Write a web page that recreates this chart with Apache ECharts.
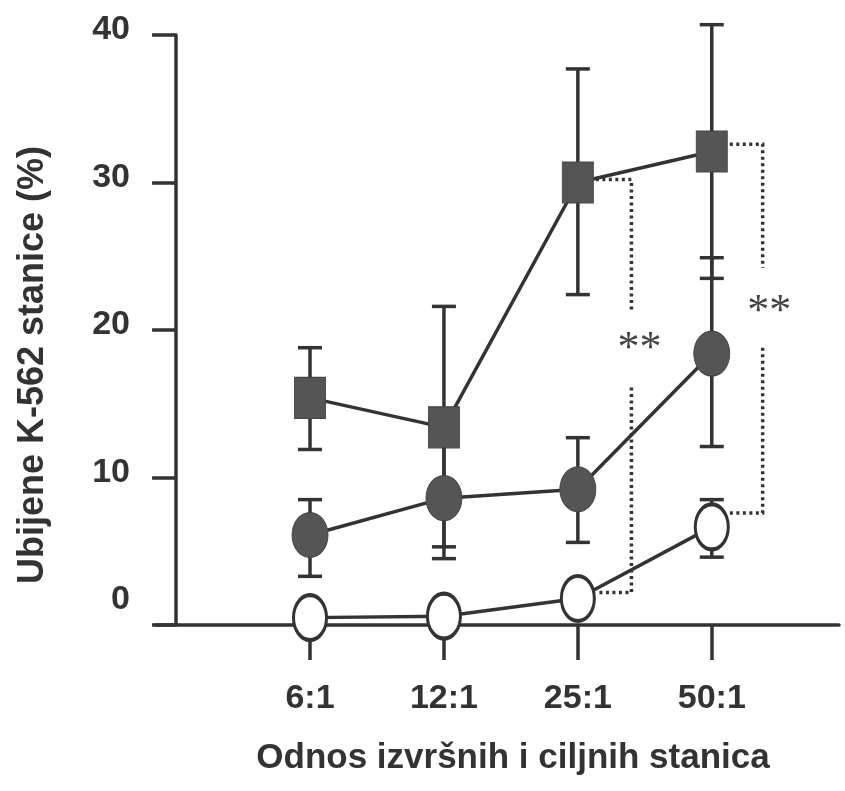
<!DOCTYPE html>
<html>
<head>
<meta charset="utf-8">
<script src="https://cdn.jsdelivr.net/npm/echarts@6/dist/echarts.min.js"></script>
<style>
  html, body { margin: 0; padding: 0; background: #fff; }
  #main { width: 845px; height: 791px; }
</style>
</head>
<body>
<div id="main"></div>
<script>
// omjeri efektor:meta (x pozicije 1..4)
const categories = ["6:1", "12:1", "25:1", "50:1"];
const yTicks = [0, 10, 20, 30, 40];

// kvadrati (gornja krivulja)
const squareMean = [15.4, 13.4, 30.0, 32.1];
const squareLow = [11.9, 5.3, 22.4, 23.5];
const squareHigh = [18.8, 21.6, 37.7, 40.7];

// tamni krugovi (srednja krivulja)
const dotMean = [6.1, 8.6, 9.2, 18.4];
const dotLow = [3.3, 4.5, 5.6, 12.1];
const dotHigh = [8.5, 12.7, 12.7, 24.9];

// prazni krugovi (donja krivulja)
const openMean = [0.5, 0.6, 1.8, 6.65];
const openLow = [null, null, null, 4.6];
const openHigh = [null, null, null, 8.5];

// oznake značajnosti: [kategorija, x zagrade, vrh, prekid gore, prekid dolje, dno]
const brackets = [
  [3, 3.40, 30.2, 21.2, 16.1, 2.2],
  [4, 4.38, 32.6, 24.2, 18.8, 7.6]
];
const starLabels = [
  [3.46, 19.2, "**"],
  [4.43, 21.7, "**"]
];

const ink = "#333";
const font = "'Liberation Sans', Arial, sans-serif";

const chartDom = document.getElementById("main");
const myChart = echarts.init(chartDom);

const errorSeries = (low, high) => ({
  type: "custom",
  z: 1,
  silent: true,
  data: categories
    .map((c, i) => [i + 1, low[i], high[i]])
    .filter(d => d[1] != null),
  renderItem: (params, api) => {
    const x = api.value(0);
    const lo = api.coord([x, api.value(1)]);
    const hi = api.coord([x, api.value(2)]);
    const cap = 12;
    const style = { stroke: ink, lineWidth: 3.5 };
    return {
      type: "group",
      children: [
        { type: "line", shape: { x1: lo[0], y1: lo[1], x2: hi[0], y2: hi[1] }, style },
        { type: "line", shape: { x1: lo[0] - cap, y1: lo[1], x2: lo[0] + cap, y2: lo[1] }, style },
        { type: "line", shape: { x1: hi[0] - cap, y1: hi[1], x2: hi[0] + cap, y2: hi[1] }, style }
      ]
    };
  }
});

const ellipse = "path://M0,-1 A1,1 0 1,1 0,1 A1,1 0 1,1 0,-1 Z";

const option = {
  backgroundColor: "#fff",
  animation: false,
  grid: { left: 156, top: 35, width: 683, height: 590, outerBoundsMode: "none" },
  xAxis: {
    type: "value",
    min: -0.15,
    max: 4.95,
    interval: 1,
    splitLine: { show: false },
    axisLine: { lineStyle: { color: ink, width: 3.5 } },
    axisTick: {
      length: 35,
      customValues: [1, 2, 3, 4],
      lineStyle: { color: ink, width: 3.5 }
    },
    axisLabel: {
      customValues: [1, 2, 3, 4],
      margin: 57,
      formatter: v => categories[Math.round(v) - 1] || "",
      color: ink,
      fontSize: 34,
      fontWeight: "bold",
      fontFamily: font
    },
    name: "Odnos izvršnih i ciljnih stanica",
    nameLocation: "middle",
    nameGap: 116,
    nameTextStyle: {
      color: ink,
      fontSize: 35,
      fontWeight: "bold",
      fontFamily: font,
      padding: [0, 0, 0, 31]
    }
  },
  yAxis: {
    type: "value",
    min: 0,
    max: 40,
    interval: 10,
    splitLine: { show: false },
    axisLine: { onZero: true, lineStyle: { color: ink, width: 3.5 } },
    axisTick: { length: 24, lineStyle: { color: ink, width: 3.5 } },
    axisLabel: {
      margin: 26,
      formatter: v => (v === 0 ? "{z|0}" : "{n|" + v + "}"),
      rich: {
        n: { color: ink, fontSize: 34, fontWeight: "bold", fontFamily: font, padding: [0, 0, 10, 0] },
        z: { color: ink, fontSize: 34, fontWeight: "bold", fontFamily: font, padding: [0, 0, 50, 0] }
      }
    },
    name: "Ubijene K-562 stanice (%)",
    nameLocation: "middle",
    nameGap: 105,
    nameTextStyle: {
      color: ink,
      fontSize: 36,
      fontWeight: "bold",
      fontFamily: font,
      padding: [0, 70, 0, 0]
    }
  },
  series: [
    errorSeries(squareLow, squareHigh),
    errorSeries(dotLow, dotHigh),
    errorSeries(openLow, openHigh),
    {
      name: "kvadrati",
      type: "line",
      z: 3,
      data: squareMean.map((v, i) => [i + 1, v]),
      symbol: "rect",
      symbolSize: [31, 41],
      itemStyle: { color: "#555", borderColor: "#444", borderWidth: 1 },
      lineStyle: { color: ink, width: 3.5 }
    },
    {
      name: "krugovi",
      type: "line",
      z: 4,
      data: dotMean.map((v, i) => [i + 1, v]),
      symbol: ellipse,
      symbolSize: [36, 45],
      itemStyle: { color: "#555", borderColor: "#444", borderWidth: 1 },
      lineStyle: { color: ink, width: 3.5 }
    },
    {
      name: "prazni",
      type: "line",
      z: 5,
      data: openMean.map((v, i) => [i + 1, v]),
      symbol: ellipse,
      symbolSize: [33, 45],
      itemStyle: { color: "#fff", borderColor: ink, borderWidth: 3.5 },
      lineStyle: { color: ink, width: 3.5 }
    },
    {
      // isprekidane zagrade za značajnost
      type: "custom",
      z: 2,
      silent: true,
      data: brackets,
      renderItem: (params, api) => {
        const cat = api.value(0);
        const bx = api.value(1);
        const top = api.coord([bx, api.value(2)]);
        const gTop = api.coord([bx, api.value(3)]);
        const gBot = api.coord([bx, api.value(4)]);
        const bot = api.coord([bx, api.value(5)]);
        const startX = api.coord([cat, 0])[0] + 18;
        const style = { stroke: "#333", lineWidth: 3.5, lineDash: [3, 3.5], fill: null };
        return {
          type: "group",
          children: [
            { type: "polyline", shape: { points: [[startX, top[1]], top, gTop] }, style },
            { type: "polyline", shape: { points: [gBot, bot, [startX, bot[1]]] }, style }
          ]
        };
      }
    },
    {
      type: "custom",
      z: 6,
      silent: true,
      data: starLabels,
      renderItem: (params, api) => {
        const p = api.coord([api.value(0), api.value(1)]);
        return {
          type: "text",
          x: p[0],
          y: p[1] + 8,
          style: {
            text: starLabels[params.dataIndex][2],
            fill: "#444",
            font: "44px 'Liberation Serif', serif",
            textAlign: "center",
            textVerticalAlign: "middle"
          }
        };
      }
    }
  ]
};

myChart.setOption(option);
</script>
</body>
</html>
